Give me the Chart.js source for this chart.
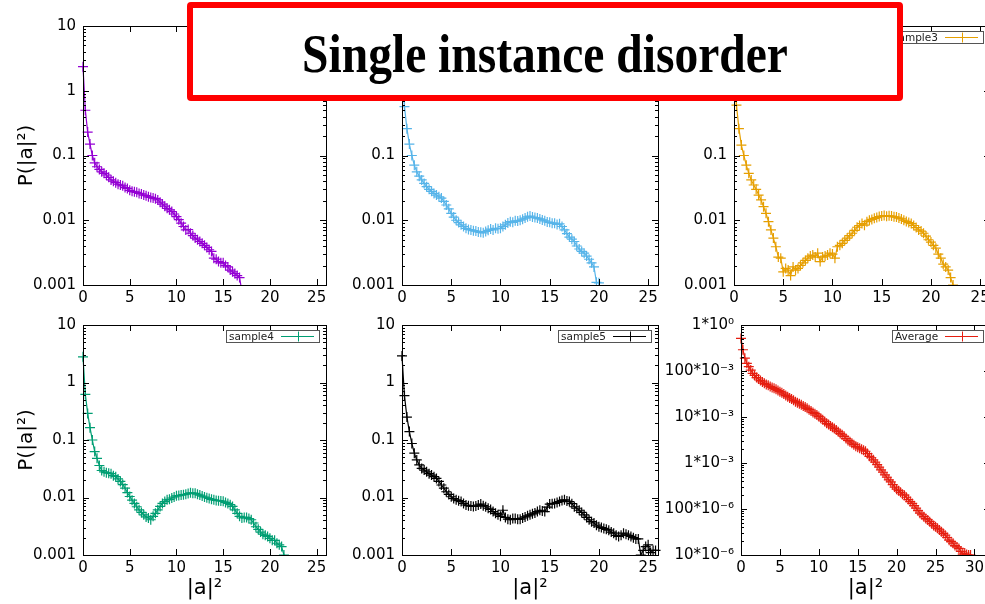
<!DOCTYPE html>
<html>
<head>
<meta charset="utf-8">
<title>Single instance disorder</title>
<script src="https://cdn.jsdelivr.net/npm/chart.js@4/dist/chart.umd.min.js"></script>
<style>
  html, body { margin: 0; padding: 0; background: #fff; }
  body { position: relative; width: 985px; height: 604px; overflow: hidden; }
  canvas.panel { position: absolute; }
  #banner {
    position: absolute; left: 187px; top: 2px; width: 716px; height: 99px;
    box-sizing: border-box; border: 6px solid #ff0000; border-radius: 4px;
    background: #fff; z-index: 10; padding-top: 4px;
    display: flex; align-items: center; justify-content: center;
    font: bold 54px "Liberation Serif", "Times New Roman", serif; color: #000;
  }
  #banner span { display: inline-block; transform: scaleX(0.88); white-space: nowrap; }
</style>
</head>
<body>
<div id="banner"><span>Single instance disorder</span></div>
<script>
// |a|^2 sampling grid shared by every histogram
const xGrid = [0,0.25,0.5,0.75,1,1.25,1.5,1.75,2,2.25,2.5,2.75,3,3.25,3.5,3.75,4,4.25,4.5,4.75,
  5,5.25,5.5,5.75,6,6.25,6.5,6.75,7,7.25,7.5,7.75,8,8.25,8.5,8.75,9,9.25,9.5,9.75,
  10,10.25,10.5,10.75,11,11.25,11.5,11.75,12,12.25,12.5,12.75,13,13.25,13.5,13.75,14,14.25,14.5,14.75,
  15,15.25,15.5,15.75,16,16.25,16.5,16.75,17,17.25,17.5,17.75,18,18.25,18.5,18.75,19,19.25,19.5,19.75,
  20,20.25,20.5,20.75,21,21.25,21.5,21.75,22,22.25,22.5,22.75,23,23.25,23.5,23.75,24,24.25,24.5,24.75,
  25,25.25,25.5,25.75,26,26.25,26.5,26.75,27,27.25,27.5,27.75,28,28.25,28.5,28.75,29,29.25,29.5];

// P(|a|^2) for each disorder sample
const sample1 = [2.35,0.50,0.23,0.15, 0.10,0.077,0.067,0.061, 0.056,0.053,0.050,0.046,
  0.042,0.040,0.038,0.036, 0.035,0.034,0.032,0.031, 0.029,0.028,0.0275,0.027,
  0.026,0.0255,0.0245,0.024, 0.023,0.0225,0.022,0.0215, 0.0206,0.019,0.0178,0.0165,
  0.0153,0.0145,0.0136,0.0125, 0.0114,0.0102,0.0090,0.0080, 0.0071,0.0072,0.0063,0.0058,
  0.0053,0.0050,0.0047,0.0044, 0.0041,0.0038,0.0035,0.0033, 0.0026,0.0025,0.0023,0.0022,
  0.0022,0.0020,0.0019,0.0017, 0.0016,0.0015,0.0014,0.0013, 0.0008];

const sample2 = [2.6,0.57,0.26,0.15, 0.10,0.071,0.056,0.048, 0.042,0.037,0.033,0.030,
  0.028,0.026,0.0245,0.023, 0.022,0.0195,0.0172,0.015, 0.0128,0.0112,0.0100,0.0092,
  0.0085,0.0080,0.0075,0.0072, 0.0071,0.0069,0.0068,0.0066, 0.0065,0.0064,0.0067,0.0070,
  0.0073,0.0071,0.0075,0.0074, 0.0075,0.0080,0.0085,0.0091, 0.0095,0.0093,0.0098,0.0097,
  0.0100,0.0104,0.0108,0.0113, 0.0116,0.0112,0.0110,0.0108, 0.0105,0.0101,0.0098,0.0094,
  0.0093,0.0090,0.0090,0.0086, 0.0088,0.0080,0.0071,0.0062, 0.0055,0.0051,0.0047,0.0040,
  0.0036,0.0033,0.0031,0.0028, 0.0025,0.0022,0.0019,0.0011, 0.00108,0.0007];

const sample3 = [2.5,0.60,0.26,0.145, 0.10,0.071,0.053,0.042, 0.035,0.030,0.0245,0.0206,
  0.0162,0.0128,0.0095,0.0071, 0.0053,0.0039,0.0027,0.0026, 0.0016,0.0018,0.0017,0.0014,
  0.0019,0.0017,0.0018,0.0020, 0.0022,0.0024,0.0026,0.0028, 0.0029,0.0027,0.0031,0.0023,
  0.0027,0.0028,0.0029,0.0031, 0.0030,0.0026,0.0039,0.0041, 0.0044,0.0049,0.0053,0.0058,
  0.0063,0.0070,0.0078,0.0083, 0.0089,0.0084,0.0095,0.0100, 0.0103,0.0107,0.0110,0.0114,
  0.0116,0.0118,0.0115,0.0117, 0.0116,0.0113,0.0112,0.0108, 0.0105,0.0100,0.0096,0.0092,
  0.0089,0.0083,0.0077,0.0071, 0.0068,0.0063,0.0057,0.0050, 0.0046,0.0041,0.0037,0.0030,
  0.0026,0.0021,0.0019,0.0017, 0.0013,0.0010,0.0007];

const sample4 = [2.8,0.62,0.29,0.164, 0.10,0.063,0.048,0.036, 0.0295,0.028,0.027,0.0265,
  0.026,0.024,0.023,0.021, 0.019,0.0168,0.0145,0.0122, 0.0104,0.0090,0.0079,0.0069,
  0.0061,0.0055,0.0050,0.0046, 0.0044,0.0041,0.0047,0.0053, 0.0061,0.0070,0.0079,0.0085,
  0.0091,0.0093,0.0098,0.0102, 0.0107,0.0108,0.0110,0.0112, 0.0114,0.0117,0.0121,0.0119,
  0.0118,0.0114,0.0110,0.0106, 0.0102,0.0099,0.0096,0.0093, 0.0091,0.0089,0.0088,0.0087,
  0.0086,0.0082,0.0079,0.0075, 0.0070,0.0061,0.0053,0.0047, 0.0044,0.0045,0.0045,0.0043,
  0.0041,0.0036,0.0031,0.0028, 0.0025,0.0023,0.0022,0.0021, 0.00195,0.0018,0.0018,0.0016,
  0.0015,0.0014,0.0010,0.0007];

const sample5 = [2.9,0.59,0.25,0.14, 0.087,0.059,0.045,0.037, 0.032,0.030,0.028,0.026,
  0.0245,0.023,0.0215,0.019, 0.0165,0.0145,0.0126,0.0113, 0.0103,0.0096,0.0091,0.0088,
  0.0085,0.0079,0.0074,0.0072, 0.0071,0.0070,0.0071,0.0074, 0.0077,0.0072,0.0069,0.0065,
  0.0062,0.0057,0.0053,0.0050, 0.0047,0.0060,0.0045,0.0042, 0.0041,0.0043,0.0043,0.0042,
  0.0042,0.0044,0.0046,0.0048, 0.0050,0.0052,0.0054,0.0057, 0.0060,0.0058,0.0057,0.0068,
  0.0077,0.0078,0.0079,0.0082, 0.0085,0.0089,0.0091,0.0087, 0.0085,0.0078,0.0069,0.0065,
  0.0060,0.0055,0.0050,0.0045, 0.0041,0.0038,0.0036,0.0033, 0.0031,0.0030,0.0029,0.0028,
  0.0027,0.0025,0.0024,0.0022, 0.0021,0.0022,0.0024,0.0023, 0.0022,0.0021,0.0020,0.0019,
  0.0019,0.0010,0.0012,0.0014, 0.0015,0.0011,0.0012,0.0012];

const average = [0.51,0.29,0.19,0.147, 0.124,0.105,0.089,0.080, 0.072,0.067,0.062,0.058,
  0.054,0.051,0.049,0.046, 0.044,0.042,0.040,0.0375, 0.0355,0.0335,0.0315,0.0295,
  0.0276,0.026,0.0245,0.023, 0.0215,0.0205,0.0194,0.0184, 0.0174,0.0164,0.0154,0.0144,
  0.0135,0.0126,0.0118,0.0110, 0.0102,0.0094,0.0087,0.0080, 0.0073,0.0069,0.0064,0.0060,
  0.0056,0.0052,0.0048,0.0044, 0.0041,0.0038,0.0034,0.0031, 0.0029,0.0027,0.0025,0.0023,
  0.0022,0.0021,0.0020,0.0019, 0.0018,0.0016,0.0014,0.0013, 0.00117,0.00104,0.00092,0.00081,
  0.00071,0.00063,0.00055,0.00049, 0.00043,0.00039,0.00034,0.00030, 0.00027,0.00025,0.00023,0.00021,
  0.00020,0.00018,0.00016,0.000145, 0.000132,0.000118,0.000104,0.000092, 0.000081,0.000075,0.000068,0.000062,
  0.000058,0.000053,0.000048,0.000044, 0.000041,0.000038,0.000035,0.000032, 0.0000295,0.000027,0.000024,0.000021,
  0.0000195,0.000018,0.000016,0.000015, 0.0000139,0.000012,0.0000105,0.000011, 0.0000102,0.00001,0.00001];

// axis ticks and their labels
const sampleXTicks = [0, 5, 10, 15, 20, 25];
const averageXTicks = [0, 5, 10, 15, 20, 25, 30];
const sampleYTicks = [10, 1, 0.1, 0.01, 0.001];
const sampleYLabels = ['10', '1', '0.1', '0.01', '0.001'];
const averageYTicks = [1, 0.1, 0.01, 0.001, 0.0001, 0.00001];
const averageYLabels = ['1*10\u2070', '100*10\u207B\u00B3', '10*10\u207B\u00B3', '1*10\u207B\u00B3', '100*10\u207B\u2076', '10*10\u207B\u2076'];

const AXIS_FONT = 'DejaVu Sans';

// gnuplot-like frame: border plus inward ticks on all four sides
const gnuFrame = {
  id: 'gnuFrame',
  afterDatasetsDraw(chart) {
    const { ctx, chartArea: a, scales: { x, y } } = chart;
    ctx.save();
    ctx.strokeStyle = '#000';
    ctx.lineWidth = 1;
    ctx.beginPath();
    x.ticks.forEach(t => {
      const px = Math.round(x.getPixelForValue(t.value)) + 0.5;
      ctx.moveTo(px, a.bottom); ctx.lineTo(px, a.bottom - 6);
      ctx.moveTo(px, a.top); ctx.lineTo(px, a.top + 6);
    });
    const lo = Math.floor(Math.log10(y.min)), hi = Math.ceil(Math.log10(y.max));
    for (let d = lo; d <= hi; d++) {
      for (let k = 1; k <= 9; k++) {
        const v = k * Math.pow(10, d);
        if (v < y.min * 0.999 || v > y.max * 1.001) continue;
        const py = Math.round(y.getPixelForValue(v)) + 0.5;
        const len = k === 1 ? 6 : 3;
        ctx.moveTo(a.left, py); ctx.lineTo(a.left + len, py);
        ctx.moveTo(a.right, py); ctx.lineTo(a.right - len, py);
      }
    }
    ctx.stroke();
    ctx.strokeRect(Math.round(a.left) + 0.5, Math.round(a.top) + 0.5,
                   Math.round(a.right - a.left), Math.round(a.bottom - a.top));
    ctx.restore();
  }
};

// boxed key in the upper right corner of the plot
const gnuKey = {
  id: 'gnuKey',
  afterDraw(chart, args, opts) {
    if (!opts || !opts.text) return;
    const { ctx, chartArea: a } = chart;
    ctx.save();
    ctx.font = '10.5px "' + AXIS_FONT + '"';
    const tw = ctx.measureText(opts.text).width;
    const lineLen = 33, h = 12;
    const w = Math.round(3 + tw + 7 + lineLen + 5);
    const bx = Math.round(a.right - 7 - w), by = Math.round(a.top + 5);
    ctx.strokeStyle = '#555';
    ctx.strokeRect(bx + 0.5, by + 0.5, w, h);
    ctx.fillStyle = '#222';
    ctx.textBaseline = 'middle';
    ctx.fillText(opts.text, bx + 3, by + h / 2 + 1);
    const lx1 = bx + w - 5, lx0 = lx1 - lineLen, ly = by + Math.round(h / 2) + 0.5;
    const cx = Math.round((lx0 + lx1) / 2) + 0.5;
    ctx.strokeStyle = opts.color;
    ctx.beginPath();
    ctx.moveTo(lx0, ly); ctx.lineTo(lx1, ly);
    ctx.moveTo(cx - 5, ly); ctx.lineTo(cx + 5, ly);
    ctx.moveTo(cx, ly - 5); ctx.lineTo(cx, ly + 5);
    ctx.stroke();
    ctx.restore();
  }
};

// panel placement: canvas box (cx, cy, cw, ch) and plot rectangle (l, t, r, b)
const panels = [
  { ys: sample1, key: 'sample1', color: '#9400d3', xMax: 26, xTicks: sampleXTicks,
    yMin: 0.001, yMax: 10, yTicks: sampleYTicks, yLabels: sampleYLabels, yTitle: true, xTitle: false,
    box: { cx: 0, cy: 0, cw: 340, ch: 320, l: 83, t: 26, r: 326, b: 285 } },
  { ys: sample2, key: 'sample2', color: '#56b4e9', xMax: 26, xTicks: sampleXTicks,
    yMin: 0.001, yMax: 10, yTicks: sampleYTicks, yLabels: sampleYLabels, yTitle: false, xTitle: false,
    box: { cx: 330, cy: 0, cw: 340, ch: 320, l: 402, t: 26, r: 658, b: 285 } },
  { ys: sample3, key: 'sample3', color: '#e69f00', xMax: 26, xTicks: sampleXTicks,
    yMin: 0.001, yMax: 10, yTicks: sampleYTicks, yLabels: sampleYLabels, yTitle: false, xTitle: false,
    box: { cx: 660, cy: 0, cw: 340, ch: 320, l: 734, t: 26, r: 990, b: 285 } },
  { ys: sample4, key: 'sample4', color: '#009e73', xMax: 26, xTicks: sampleXTicks,
    yMin: 0.001, yMax: 10, yTicks: sampleYTicks, yLabels: sampleYLabels, yTitle: true, xTitle: true,
    box: { cx: 0, cy: 300, cw: 340, ch: 304, l: 83, t: 325, r: 326, b: 555 } },
  { ys: sample5, key: 'sample5', color: '#000000', xMax: 26, xTicks: sampleXTicks,
    yMin: 0.001, yMax: 10, yTicks: sampleYTicks, yLabels: sampleYLabels, yTitle: false, xTitle: true,
    box: { cx: 330, cy: 300, cw: 340, ch: 304, l: 402, t: 325, r: 658, b: 555 } },
  { ys: average, key: 'Average', color: '#e51e10', xMax: 32, xTicks: averageXTicks,
    yMin: 0.00001, yMax: 1, yTicks: averageYTicks, yLabels: averageYLabels, yTitle: false, xTitle: true,
    box: { cx: 660, cy: 300, cw: 340, ch: 304, l: 741, t: 325, r: 990, b: 555 } }
];

Chart.defaults.color = '#000';
Chart.defaults.font.family = AXIS_FONT;

panels.forEach(p => {
  const g = p.box;
  const canvas = document.createElement('canvas');
  canvas.className = 'panel';
  canvas.width = g.cw; canvas.height = g.ch;
  canvas.style.left = g.cx + 'px'; canvas.style.top = g.cy + 'px';
  canvas.style.width = g.cw + 'px'; canvas.style.height = g.ch + 'px';
  document.body.appendChild(canvas);

  const yW = g.l - g.cx;
  const xH = g.cy + g.ch - g.b;
  const points = p.ys.map((v, i) => ({ x: xGrid[i], y: v }));

  new Chart(canvas, {
    type: 'scatter',
    data: {
      datasets: [{
        label: p.key,
        data: points,
        showLine: true,
        borderColor: p.color,
        backgroundColor: p.color,
        borderWidth: 1.2,
        tension: 0,
        pointStyle: 'cross',
        pointRadius: 5,
        pointBorderWidth: 1.2,
        pointBorderColor: p.color,
        clip: { left: 6, right: 6, top: 6, bottom: 1 }
      }]
    },
    options: {
      responsive: false,
      animation: false,
      devicePixelRatio: 1,
      events: [],
      layout: { padding: { left: 0, top: g.t - g.cy, right: g.cx + g.cw - g.r, bottom: 0 } },
      plugins: {
        legend: { display: false },
        tooltip: { enabled: false },
        gnuKey: { text: p.key, color: p.color }
      },
      scales: {
        x: {
          type: 'linear', min: 0, max: p.xMax,
          afterBuildTicks: s => { s.ticks = p.xTicks.map(v => ({ value: v })); },
          afterFit: s => { s.height = xH; },
          grid: { display: false, drawTicks: false },
          border: { display: false },
          ticks: { font: { family: AXIS_FONT, size: 15 }, padding: 4, maxRotation: 0, autoSkip: false, color: '#000' },
          title: { display: p.xTitle, text: '|a|\u00B2', font: { family: AXIS_FONT, size: 21 }, padding: { top: 0, bottom: 3 }, color: '#000' }
        },
        y: {
          type: 'logarithmic', min: p.yMin, max: p.yMax,
          afterBuildTicks: s => { s.ticks = p.yTicks.map(v => ({ value: v })); },
          afterFit: s => { s.width = yW; },
          grid: { display: false, drawTicks: false },
          border: { display: false },
          ticks: { font: { family: AXIS_FONT, size: 15 }, padding: 7, autoSkip: false, color: '#000',
                   callback: (v, i) => p.yLabels[i] },
          title: { display: p.yTitle, text: 'P(|a|\u00B2)', font: { family: AXIS_FONT, size: 20 }, padding: { top: 15, bottom: 0 }, color: '#000' }
        }
      }
    },
    plugins: [gnuFrame, gnuKey]
  });
});
</script>
</body>
</html>
